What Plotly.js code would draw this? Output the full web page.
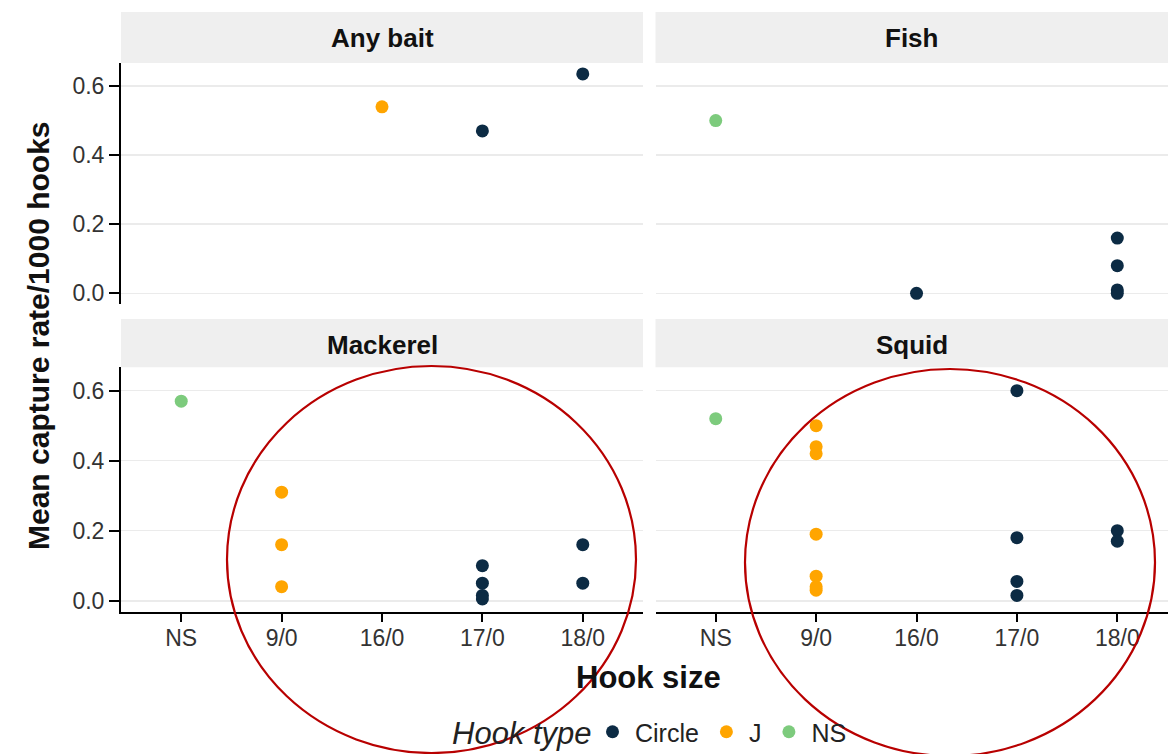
<!DOCTYPE html>
<html>
<head>
<meta charset="utf-8">
<script src="https://cdn.plot.ly/plotly-3.0.1.min.js"></script>
<style>
  html, body { margin: 0; padding: 0; background: #ffffff; }
  #chart { width: 1168px; height: 754px; }
</style>
</head>
<body>
<div id="chart"></div>
<script>
// Hook sizes on the x axis (shared by every facet)
const hookSizes = ['NS', '9/0', '16/0', '17/0', '18/0'];
const hookTypes = ['Circle', 'J', 'NS'];
const baitNames = ['Any bait', 'Fish', 'Mackerel', 'Squid'];

// Mean capture rate per 1000 hooks, one row per set of gear
const anyBaitSize = ['16/0', '17/0', '18/0'];
const anyBaitType = ['J', 'Circle', 'Circle'];
const anyBaitRate = [0.54, 0.47, 0.635];

const fishSize = ['NS', '16/0', '18/0', '18/0', '18/0', '18/0'];
const fishType = ['NS', 'Circle', 'Circle', 'Circle', 'Circle', 'Circle'];
const fishRate = [0.50, 0.00, 0.16, 0.08, 0.01, 0.00];

const mackerelSize = ['NS', '9/0', '9/0', '9/0', '17/0', '17/0', '17/0', '17/0', '18/0', '18/0'];
const mackerelType = ['NS', 'J', 'J', 'J', 'Circle', 'Circle', 'Circle', 'Circle', 'Circle', 'Circle'];
const mackerelRate = [0.57, 0.31, 0.16, 0.04, 0.10, 0.05, 0.015, 0.005, 0.16, 0.05];

const squidSize = ['NS', '9/0', '9/0', '9/0', '9/0', '9/0', '9/0', '9/0', '17/0', '17/0', '17/0', '17/0', '18/0', '18/0'];
const squidType = ['NS', 'J', 'J', 'J', 'J', 'J', 'J', 'J', 'Circle', 'Circle', 'Circle', 'Circle', 'Circle', 'Circle'];
const squidRate = [0.52, 0.50, 0.44, 0.42, 0.19, 0.07, 0.04, 0.03, 0.60, 0.18, 0.055, 0.015, 0.20, 0.17];

const typeColors = { 'Circle': '#0c2b44', 'J': '#ffa500', 'NS': '#7dcb7d' };

const panels = [
  { size: anyBaitSize, type: anyBaitType, rate: anyBaitRate, xa: 'x', ya: 'y' },
  { size: fishSize, type: fishType, rate: fishRate, xa: 'x2', ya: 'y2' },
  { size: mackerelSize, type: mackerelType, rate: mackerelRate, xa: 'x3', ya: 'y3' },
  { size: squidSize, type: squidType, rate: squidRate, xa: 'x4', ya: 'y4' }
];

const traces = [];
const shownInLegend = {};
panels.forEach(p => {
  hookTypes.forEach((t, ti) => {
    const xs = [], ys = [];
    p.type.forEach((v, i) => { if (v === t) { xs.push(p.size[i]); ys.push(p.rate[i]); } });
    if (!xs.length) return;
    traces.push({
      type: 'scatter', mode: 'markers',
      x: xs, y: ys, xaxis: p.xa, yaxis: p.ya,
      name: t, legendgroup: t, legendrank: ti + 1,
      showlegend: !shownInLegend[t],
      marker: { color: typeColors[t], size: 13 },
      hoverinfo: 'x+y'
    });
    shownInLegend[t] = true;
  });
});

const W = 1168, H = 754;
const px = v => v / W;
const py = v => 1 - v / H;

const FONT = 'Liberation Sans, Arial, sans-serif';
const tickFont = { family: FONT, size: 23, color: '#333333' };
const yTicks = [0, 0.2, 0.4, 0.6];
const yRange = [-0.032, 0.667];
const leftDom = [px(121), px(643)];
const rightDom = [px(655.5), 1];
const topDom = [py(304.4), py(62.9)];
const botDom = [py(611.9), py(367.2)];

function xAxis(dom, bottom, range) {
  return {
    domain: dom, type: 'category', categoryorder: 'array', categoryarray: hookSizes,
    range: range, showgrid: false, zeroline: false,
    showline: bottom, linecolor: '#000000', linewidth: 2,
    ticks: bottom ? 'outside' : '', ticklen: 8, tickwidth: 2, tickcolor: '#000000',
    ticklabelstandoff: -4,
    showticklabels: bottom, tickfont: tickFont, fixedrange: true
  };
}
function yAxis(dom, left, anchor) {
  return {
    domain: dom, anchor: anchor, range: yRange, tickvals: yTicks, ticktext: ['0.0', '0.2', '0.4', '0.6'],
    showgrid: true, gridcolor: '#ebebeb', gridwidth: 1.6, zeroline: false,
    showline: left, linecolor: '#000000', linewidth: 2,
    ticks: left ? 'outside' : '', ticklen: 10, tickwidth: 2, tickcolor: '#000000',
    showticklabels: left, tickfont: tickFont, fixedrange: true
  };
}

const stripFont = { family: FONT, size: 26, color: '#111111', weight: 'bold' };
const strips = [
  { x: leftDom, y: [py(63), py(12)], label: baitNames[0], ty: py(38) },
  { x: rightDom, y: [py(63), py(12)], label: baitNames[1], ty: py(38) },
  { x: leftDom, y: [py(367.2), py(319)], label: baitNames[2], ty: py(345) },
  { x: rightDom, y: [py(367.2), py(319)], label: baitNames[3], ty: py(345) }
];

const shapes = strips.map(s => ({
  type: 'rect', xref: 'paper', yref: 'paper',
  x0: s.x[0], x1: s.x[1], y0: s.y[0], y1: s.y[1],
  fillcolor: '#efefef', line: { width: 0 }, layer: 'below'
}));

// Red ellipses highlighting the 9/0 to 18/0 hooks in the lower panels
shapes.push({
  type: 'circle', xref: 'paper', yref: 'paper',
  x0: px(227), x1: px(636), y0: py(753), y1: py(366),
  line: { color: '#b80000', width: 2.2 }, layer: 'above'
});
shapes.push({
  type: 'circle', xref: 'paper', yref: 'paper',
  x0: px(745), x1: px(1155), y0: py(756), y1: py(369),
  line: { color: '#b80000', width: 2.2 }, layer: 'above'
});

const annotations = strips.map(s => ({
  xref: 'paper', yref: 'paper', x: (s.x[0] + s.x[1]) / 2, y: s.ty,
  text: s.label, showarrow: false, font: stripFont, xanchor: 'center', yanchor: 'middle'
}));
annotations.push({
  xref: 'paper', yref: 'paper', x: px(648), y: py(677), text: 'Hook size', showarrow: false,
  font: { family: FONT, size: 31, color: '#111111', weight: 'bold' },
  xanchor: 'center', yanchor: 'middle'
});
annotations.push({
  xref: 'paper', yref: 'paper', x: px(38), y: py(336), text: 'Mean capture rate/1000 hooks', showarrow: false,
  textangle: -90,
  font: { family: FONT, size: 30, color: '#111111', weight: 'bold' },
  xanchor: 'center', yanchor: 'middle'
});
// Legend heading, set beside the legend entries
annotations.push({
  xref: 'paper', yref: 'paper', x: px(594), y: py(733), text: 'Hook type', showarrow: false,
  font: { family: FONT, size: 31, style: 'italic', color: '#222222' },
  xanchor: 'right', yanchor: 'middle'
});

const layout = {
  width: W, height: H,
  margin: { l: 0, r: 0, t: 0, b: 0, pad: 0, autoexpand: false },
  paper_bgcolor: '#ffffff', plot_bgcolor: '#ffffff',
  font: { family: FONT, color: '#222222' },
  xaxis: xAxis(leftDom, false, [-0.6, 4.6]),
  yaxis: yAxis(topDom, true, 'x'),
  xaxis2: xAxis(rightDom, false, [-0.6, 4.505]),
  yaxis2: yAxis(topDom, false, 'x2'),
  xaxis3: xAxis(leftDom, true, [-0.6, 4.6]),
  yaxis3: yAxis(botDom, true, 'x3'),
  xaxis4: xAxis(rightDom, true, [-0.6, 4.505]),
  yaxis4: yAxis(botDom, false, 'x4'),
  showlegend: true,
  legend: {
    orientation: 'h', x: px(590), xanchor: 'left', y: py(709), yanchor: 'top',
    font: { family: FONT, size: 25, color: '#222222' },
    itemwidth: 35, tracegroupgap: 0, bgcolor: 'rgba(0,0,0,0)'
  },
  shapes: shapes,
  annotations: annotations
};
layout.xaxis.anchor = 'y';
layout.xaxis2.anchor = 'y2';
layout.xaxis3.anchor = 'y3';
layout.xaxis4.anchor = 'y4';

Plotly.newPlot('chart', traces, layout, { displayModeBar: false, staticPlot: true });
</script>
</body>
</html>
